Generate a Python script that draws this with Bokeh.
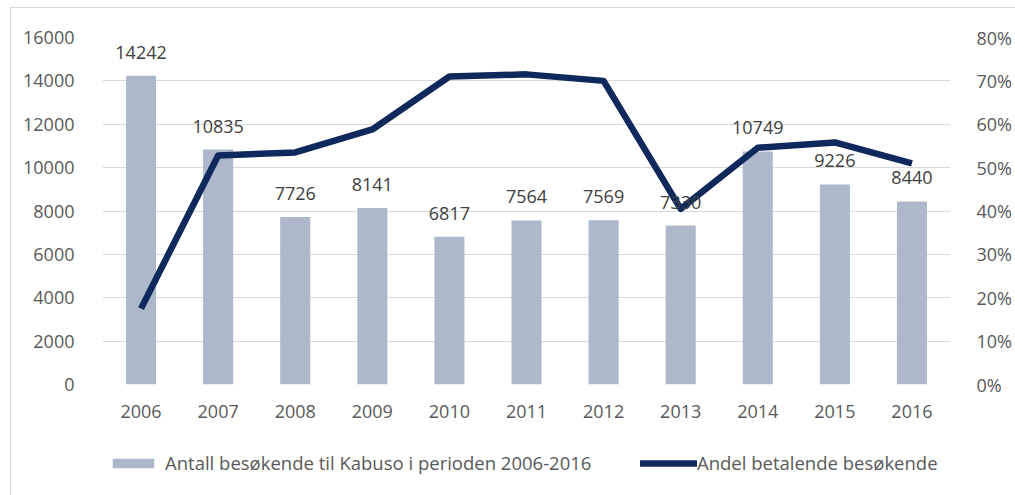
from bokeh.plotting import figure
from bokeh.layouts import column
from bokeh.models import (ColumnDataSource, LinearAxis, Range1d, FactorRange, Legend,
                          LegendItem, LabelSet, FixedTicker, NumeralTickFormatter)
from bokeh.core.properties import value
from bokeh.embed import file_html
from bokeh.resources import INLINE

years = ["2006", "2007", "2008", "2009", "2010", "2011", "2012", "2013", "2014", "2015", "2016"]
visitors = [14242, 10835, 7726, 8141, 6817, 7564, 7569, 7330, 10749, 9226, 8440]
paying_share = [0.175, 0.528, 0.535, 0.588, 0.710, 0.715, 0.700, 0.405, 0.546, 0.558, 0.510]
left_ticks = [0, 2000, 4000, 6000, 8000, 10000, 12000, 14000, 16000]
right_ticks = [0.0, 0.1, 0.2, 0.3, 0.4, 0.5, 0.6, 0.7, 0.8]
bar_name = "Antall besøkende til Kabuso i perioden 2006-2016"
line_name = "Andel betalende besøkende"

FONT = "Open Sans"
TXT = "#595959"
BAR_COLOR = "#ADB9CA"
LINE_COLOR = "#10295C"
OX, OY = 11, 8      # chart-area border offset
W = 1015 - OX
LEG_H = 55
MAIN_H = 495 - OY - LEG_H
FRAME_LEFT = 102

src = ColumnDataSource(dict(year=years, visitors=visitors, share=paying_share,
                            label=[str(v) for v in visitors]))

p = figure(width=W, height=MAIN_H, x_range=FactorRange(*years, range_padding=0),
           y_range=Range1d(0, 16000), output_backend="svg", toolbar_location=None,
           min_border_left=FRAME_LEFT - OX, min_border_right=65, min_border_top=37 - OY,
           min_border_bottom=MAIN_H - (384 - OY))
p.extra_y_ranges = {"pct": Range1d(0, 0.8)}
p.outline_line_color = None
p.background_fill_color = "white"
p.border_fill_color = "white"

p.xgrid.grid_line_color = None
p.ygrid.grid_line_color = "#D9D9D9"
p.ygrid.grid_line_width = 1
p.ygrid.ticker = FixedTicker(ticks=left_ticks)

for ax in [p.xaxis[0], p.yaxis[0]]:
    ax.axis_line_color = None
    ax.major_tick_line_color = None
    ax.minor_tick_line_color = None
    ax.major_label_text_font = FONT
    ax.major_label_text_font_size = "18px"
    ax.major_label_text_color = TXT
p.yaxis[0].ticker = FixedTicker(ticks=left_ticks)
p.yaxis[0].major_label_standoff = 22
p.xaxis[0].major_label_standoff = 14

rax = LinearAxis(y_range_name="pct", ticker=FixedTicker(ticks=right_ticks),
                 formatter=NumeralTickFormatter(format="0%"))
rax.axis_line_color = None
rax.major_tick_line_color = None
rax.minor_tick_line_color = None
rax.major_label_text_font = FONT
rax.major_label_text_font_size = "18px"
rax.major_label_text_color = TXT
rax.major_label_standoff = 20
p.add_layout(rax, "right")

p.vbar(x="year", top="visitors", width=0.39, fill_color=BAR_COLOR, line_color=None, source=src)
p.line(x="year", y="share", y_range_name="pct", line_color=LINE_COLOR,
       line_width=6.5, line_join="round", source=src)

labels = LabelSet(x="year", y="visitors", text="label", source=src, y_offset=17,
                  text_align="center", text_baseline="alphabetic", text_font=value(FONT),
                  text_font_size="18px", text_color="#404040")
p.add_layout(labels)

# legend strip below the chart (its frame is aligned with the chart's frame)
lf = figure(width=W, height=LEG_H, x_range=FactorRange(*years), y_range=Range1d(0, 1),
            output_backend="svg", toolbar_location=None,
            min_border_left=0, min_border_right=0, min_border_top=0, min_border_bottom=0)
lf.axis.visible = False
lf.grid.visible = False
lf.outline_line_color = None
lf.border_fill_color = "white"
lb = lf.vbar(x="year", top="visitors", width=0.39, fill_color=BAR_COLOR, line_color=None,
             source=src, visible=False)
ll = lf.line(x="year", y="share", line_color=LINE_COLOR, line_width=6.5, line_cap="round",
             source=src, visible=False)

common = dict(padding=0, margin=0, background_fill_alpha=0, border_line_color=None,
              label_text_font=FONT, label_text_font_size="18.5px", label_text_color=TXT,
              glyph_height=12)
leg1 = Legend(items=[LegendItem(label=bar_name, renderers=[lb])],
              location=(107 - FRAME_LEFT, 20), glyph_width=52, label_standoff=6, **common)
leg2 = Legend(items=[LegendItem(label=line_name, renderers=[ll])],
              location=(640 - FRAME_LEFT, 20), glyph_width=57, label_standoff=0, **common)
lf.add_layout(leg1)
lf.add_layout(leg2)

layout = column(p, lf, spacing=0,
                styles={"border-top": "1px solid #D9D9D9", "border-left": "1px solid #D9D9D9",
                        "margin-left": "10px", "margin-top": "7px"})

open("out.html", "w").write(file_html(layout, INLINE))
